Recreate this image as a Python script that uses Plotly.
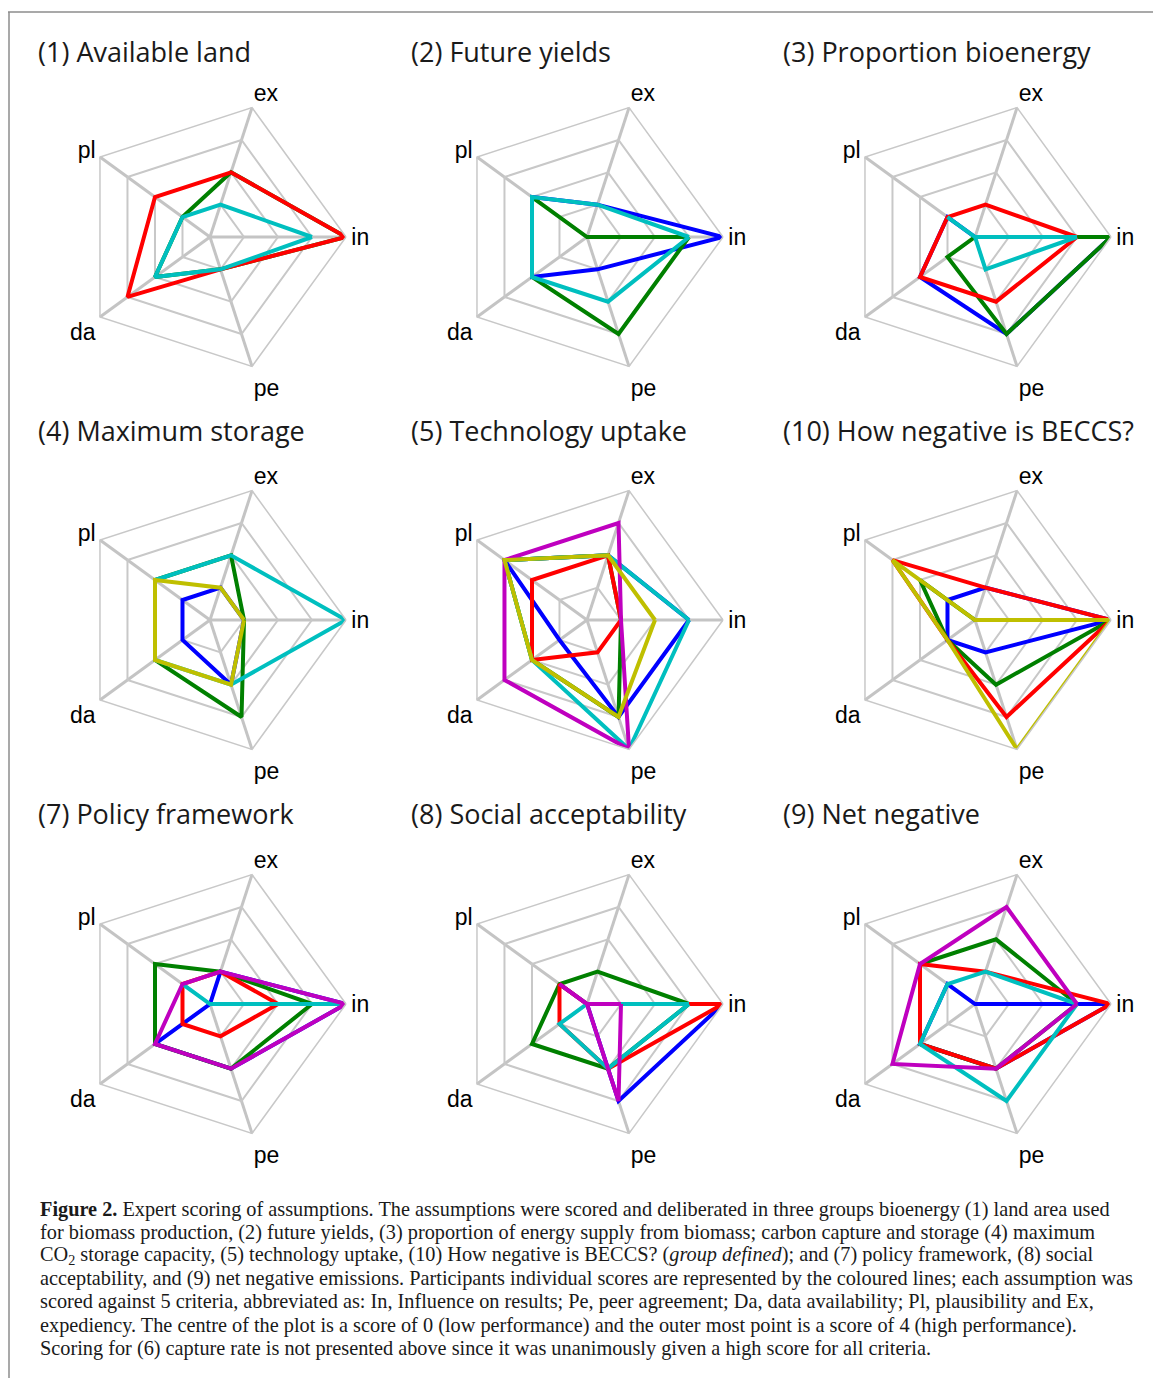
import plotly.graph_objects as go

W, H = 1153, 1378

CATEGORIES = ["in", "ex", "pl", "da", "pe"]

TITLES = ["(1) Available land", "(2) Future yields", "(3) Proportion bioenergy",
          "(4) Maximum storage", "(5) Technology uptake", "(10) How negative is BECCS?",
          "(7) Policy framework", "(8) Social acceptability", "(9) Net negative"]

# scores per participant colour, order: in, ex, pl, da, pe
AVAILABLE_LAND = {"g": [4, 2, 1, 2, 1], "r": [4, 2, 2, 3, 1], "c": [3, 1, 1, 2, 1]}
FUTURE_YIELDS = {"b": [4, 1, 2, 2, 1], "g": [3, 0, 2, 2, 3], "c": [3, 1, 2, 2, 2]}
PROPORTION_BIOENERGY = {"b": [4, 0, 1, 2, 3], "g": [4, 0, 0, 1, 3], "r": [3, 1, 1, 2, 2],
                        "c": [3, 0, 1, 0, 1]}
MAXIMUM_STORAGE = {"b": [1, 1, 1, 1, 2], "g": [1, 2, 2, 2, 3], "c": [4, 2, 2, 2, 2],
                   "y": [1, 1, 2, 2, 2]}
TECHNOLOGY_UPTAKE = {"b": [3, 2, 3, 1, 3], "g": [1, 2, 3, 2, 3], "r": [1, 2, 2, 2, 1],
                     "c": [3, 2, 3, 2, 4], "m": [1, 3, 3, 3, 4], "y": [2, 2, 3, 2, 3]}
HOW_NEGATIVE = {"b": [4, 1, 1, 1, 1], "g": [4, 0, 2, 1, 2], "r": [4, 1, 3, 1, 3],
                "y": [4, 0, 3, 1, 4]}
POLICY_FRAMEWORK = {"b": [4, 1, 0, 2, 2], "g": [3, 1, 2, 2, 2], "r": [2, 1, 1, 1, 1],
                    "c": [4, 0, 1, 0, 0], "m": [4, 1, 1, 2, 2]}
SOCIAL_ACCEPTABILITY = {"b": [4, 0, 1, 0, 3], "g": [3, 1, 1, 2, 2], "r": [4, 0, 1, 1, 2],
                        "c": [3, 0, 0, 1, 2], "m": [1, 0, 1, 0, 3]}
NET_NEGATIVE = {"b": [4, 0, 1, 2, 2], "g": [3, 2, 2, 2, 2], "r": [4, 1, 2, 2, 2],
                "c": [3, 1, 1, 2, 3], "m": [3, 3, 2, 3, 2]}

PANELS = [AVAILABLE_LAND, FUTURE_YIELDS, PROPORTION_BIOENERGY,
          MAXIMUM_STORAGE, TECHNOLOGY_UPTAKE, HOW_NEGATIVE,
          POLICY_FRAMEWORK, SOCIAL_ACCEPTABILITY, NET_NEGATIVE]

CAPTION = [
    "<b>Figure 2.</b> Expert scoring of assumptions. The assumptions were scored and deliberated in three groups bioenergy (1) land area used",
    "for biomass production, (2) future yields, (3) proportion of energy supply from biomass; carbon capture and storage (4) maximum",
    "CO<sub>2</sub> storage capacity, (5) technology uptake, (10) How negative is BECCS? (<i>group defined</i>); and (7) policy framework, (8) social",
    "acceptability, and (9) net negative emissions. Participants individual scores are represented by the coloured lines; each assumption was",
    "scored against 5 criteria, abbreviated as: In, Influence on results; Pe, peer agreement; Da, data availability; Pl, plausibility and Ex,",
    "expediency. The centre of the plot is a score of 0 (low performance) and the outer most point is a score of 4 (high performance).",
    "Scoring for (6) capture rate is not presented above since it was unanimously given a high score for all criteria.",
]

COLORS = {"b": "#0000FF", "g": "#008000", "r": "#FF0000",
          "c": "#00BFBF", "m": "#BF00BF", "y": "#BFBF00"}
ORDER = ["b", "g", "r", "c", "m", "y"]

COL_X = [210, 587, 975]
ROW_Y = [237, 620, 1004]
RAD = 136
TITLE_X = [36, 409, 781]
TITLE_Y = [52, 430, 813]

fig = go.Figure()
layout = dict(width=W, height=H, autosize=False, margin=dict(l=0, r=0, t=0, b=0),
              paper_bgcolor="white", plot_bgcolor="white", showlegend=False)

annotations = []
for i, data in enumerate(PANELS):
    row, col = divmod(i, 3)
    cx, cy = COL_X[col], ROW_Y[row]
    key = "polar" if i == 0 else f"polar{i + 1}"
    layout[key] = dict(
        domain=dict(x=[(cx - RAD) / W, (cx + RAD) / W],
                    y=[1 - (cy + RAD) / H, 1 - (cy - RAD) / H]),
        gridshape="linear",
        bgcolor="white",
        radialaxis=dict(range=[0, 4], tickvals=[1, 2, 3, 4], showticklabels=False,
                        ticks="", showline=False, gridcolor="#C8C8C8", gridwidth=1.5),
        angularaxis=dict(rotation=0, direction="counterclockwise",
                         categoryorder="array", categoryarray=CATEGORIES,
                         gridcolor="#C4C4C4", gridwidth=2.8,
                         linecolor="#C8C8C8", linewidth=1.5, ticks="",
                         tickfont=dict(family="Liberation Sans, Arial", size=23,
                                       color="black")),
    )
    for k in ORDER:
        if k in data:
            vals = data[k]
            fig.add_trace(go.Scatterpolar(
                r=vals + [vals[0]], theta=CATEGORIES + [CATEGORIES[0]],
                mode="lines", line=dict(color=COLORS[k], width=4),
                subplot=key, showlegend=False, hoverinfo="skip"))
    annotations.append(dict(
        text=TITLES[i], x=TITLE_X[col] / W, y=1 - TITLE_Y[row] / H,
        xref="paper", yref="paper", xanchor="left", yanchor="middle",
        showarrow=False, font=dict(family="Open Sans", size=27, color="#1a1a1a")))

CAP_Y0, CAP_DY = 1209, 23.2
for j, line in enumerate(CAPTION):
    annotations.append(dict(
        text=line, x=38 / W, y=1 - (CAP_Y0 + j * CAP_DY) / H,
        xref="paper", yref="paper", xanchor="left", yanchor="middle",
        showarrow=False, font=dict(family="Liberation Serif", size=20.3, color="#1a1a1a")))

layout["annotations"] = annotations
layout["shapes"] = [
    dict(type="line", xref="paper", yref="paper", x0=8 / W, x1=1, y0=1 - 12 / H, y1=1 - 12 / H,
         line=dict(color="#8c8c8c", width=1.5)),
    dict(type="line", xref="paper", yref="paper", x0=9 / W, x1=9 / W, y0=1 - 12 / H, y1=0,
         line=dict(color="#8c8c8c", width=1.5)),
]
fig.update_layout(**layout)
fig.write_html("out.html", config={"displayModeBar": False},
               post_script="document.body.style.margin='0';")
